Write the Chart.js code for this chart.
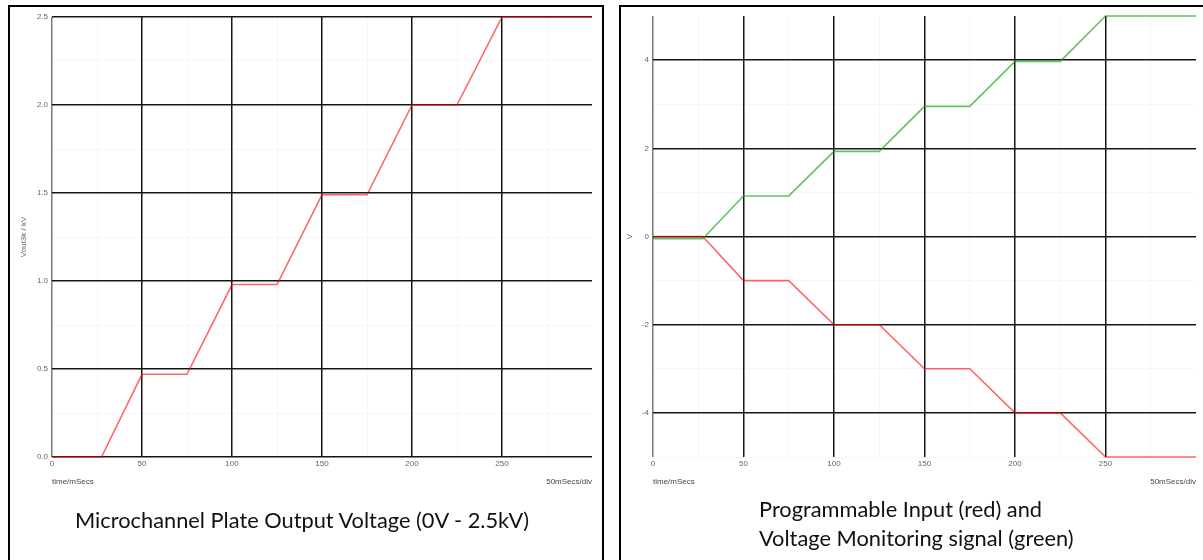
<!DOCTYPE html>
<html>
<head>
<meta charset="utf-8">
<script src="https://cdn.jsdelivr.net/npm/chart.js@4.4.1/dist/chart.umd.min.js"></script>
<style>
  html, body { margin: 0; padding: 0; background: #fff; overflow: hidden; }
  body { width: 1203px; height: 560px; position: relative; }
  .panel { position: absolute; top: 5px; height: 620px; border: 2px solid #000; box-sizing: border-box; }
  #panelA { left: 8px; width: 596px; }
  #panelB { left: 619px; width: 700px; }
  canvas { position: absolute; top: 7px; }
  #mcpChart { left: 10px; }
  #ctrlChart { left: 621px; }
  .caption { position: absolute; font-family: Lato, "Open Sans", sans-serif; font-size: 21.8px; color: #111; white-space: nowrap; line-height: 29px; }
  #capA { left: 75px; top: 505px; }
  #capB { left: 759px; top: 494px; }
</style>
</head>
<body>
<div class="panel" id="panelA"></div>
<div class="panel" id="panelB"></div>
<canvas id="mcpChart" width="591" height="500"></canvas>
<canvas id="ctrlChart" width="582" height="500"></canvas>
<div class="caption" id="capA">Microchannel Plate Output Voltage (0V - 2.5kV)</div>
<div class="caption" id="capB">Programmable Input (red) and<br>Voltage Monitoring signal (green)</div>
<script>
// Time base (ms) shared by all traces
const timeMs = [0, 27.5, 50, 75, 100, 125, 150, 175, 200, 225, 250, 300];
// MCP high-voltage output, kV
const mcpOutputKV = [0, 0, 0.47, 0.47, 0.98, 0.98, 1.49, 1.49, 2.0, 2.0, 2.5, 2.5];
// Programmable input, V
const programInputV = [0, 0, -1, -1, -2, -2, -3, -3, -4, -4, -5, -5];
// Voltage monitoring signal, V
const monitorSignalV = [-0.05, -0.05, 0.92, 0.92, 1.93, 1.93, 2.95, 2.95, 3.97, 3.97, 5.0, 5.0];

// Labelled ticks
const timeTicks = [0, 50, 100, 150, 200, 250];
const kvTicks = [0, 0.5, 1.0, 1.5, 2.0, 2.5];
const voltTicks = [-4, -2, 0, 2, 4];

const MAJOR = '#161616';
const MINOR = 'rgba(0,0,0,0.035)';
const AXIS = '#7a7a7a';
const TICK_FONT = { family: 'Arial, "Liberation Sans", sans-serif', size: 8 };
const TICK_COLOR = '#666';

const near = (v, list) => list.some(t => Math.abs(t - v) < 1e-6);
const toXY = ys => timeMs.map((t, i) => ({ x: t, y: ys[i] }));

// Divider captions under the plot
const footNotes = {
  id: 'footNotes',
  afterDraw(chart) {
    const { ctx, chartArea } = chart;
    ctx.save();
    ctx.font = '8px Arial, "Liberation Sans", sans-serif';
    ctx.fillStyle = '#444';
    ctx.textBaseline = 'middle';
    ctx.textAlign = 'left';
    ctx.fillText('time/mSecs', chartArea.left, chartArea.bottom + 24.5);
    ctx.textAlign = 'right';
    ctx.fillText('50mSecs/div', chartArea.right, chartArea.bottom + 24.5);
    ctx.restore();
  }
};

const gridWidth = c => (c.tick.value === 0 ? 1.5 : 1.5);

function timeScale() {
  return {
    type: 'linear', min: 0, max: 300,
    afterFit: s => { s.height = 50; },
    border: { display: false },
    grid: {
      drawTicks: false,
      lineWidth: c => near(c.tick.value, timeTicks) ? 1.5 : 1,
      color: c => {
        const v = c.tick.value;
        if (v === 0) return AXIS;
        if (v === 300) return 'rgba(0,0,0,0)';
        return near(v, timeTicks) ? MAJOR : MINOR;
      }
    },
    ticks: {
      stepSize: 25, autoSkip: false, maxRotation: 0, padding: 2,
      font: TICK_FONT, color: TICK_COLOR,
      callback: v => near(v, timeTicks) ? String(v) : ''
    }
  };
}

function line(data, color) {
  return { data, borderColor: color, borderWidth: 1.6, pointRadius: 0, tension: 0, fill: false, clip: false };
}

const common = {
  responsive: false,
  animation: false,
  plugins: { legend: { display: false }, tooltip: { enabled: false } }
};

new Chart(document.getElementById('mcpChart'), {
  type: 'line',
  data: { datasets: [line(toXY(mcpOutputKV), 'rgba(255,0,0,0.6)')] },
  options: Object.assign({}, common, {
    layout: { padding: { top: 10, right: 9, left: 0, bottom: 0 } },
    scales: {
      x: timeScale(),
      y: {
        type: 'linear', min: 0, max: 2.5,
        afterFit: s => { s.width = 42; },
        border: { display: false },
        title: { display: true, text: 'Vout3k / kV', font: TICK_FONT, color: TICK_COLOR, padding: { top: 9, bottom: 0 } },
        grid: {
          drawTicks: false,
          lineWidth: c => near(c.tick.value, kvTicks) ? 1.5 : 1,
          color: c => near(c.tick.value, kvTicks) ? MAJOR : MINOR
        },
        ticks: {
          stepSize: 0.25, autoSkip: false, padding: 4, font: TICK_FONT, color: TICK_COLOR,
          callback: v => near(v, kvTicks) ? v.toFixed(1) : ''
        }
      }
    }
  }),
  plugins: [footNotes]
});

new Chart(document.getElementById('ctrlChart'), {
  type: 'line',
  data: {
    datasets: [
      line(toXY(monitorSignalV), 'rgba(20,160,20,0.65)'),
      line(toXY(programInputV), 'rgba(255,0,0,0.6)')
    ]
  },
  options: Object.assign({}, common, {
    layout: { padding: { top: 9, right: 7, left: 0, bottom: 0 } },
    scales: {
      x: timeScale(),
      y: {
        type: 'linear', min: -5, max: 5,
        afterFit: s => { s.width = 32; },
        border: { display: false },
        title: { display: true, text: 'V', font: TICK_FONT, color: TICK_COLOR, padding: { top: 4, bottom: 0 } },
        grid: {
          drawTicks: false,
          lineWidth: c => near(c.tick.value, voltTicks) ? 1.5 : 1,
          color: c => {
            const v = c.tick.value;
            if (v === 5) return 'rgba(0,0,0,0)';
            return near(v, voltTicks) ? MAJOR : MINOR;
          }
        },
        ticks: {
          stepSize: 1, autoSkip: false, padding: 4, font: TICK_FONT, color: TICK_COLOR,
          callback: v => near(v, voltTicks) ? String(v) : ''
        }
      }
    }
  }),
  plugins: [footNotes]
});
</script>
</body>
</html>
